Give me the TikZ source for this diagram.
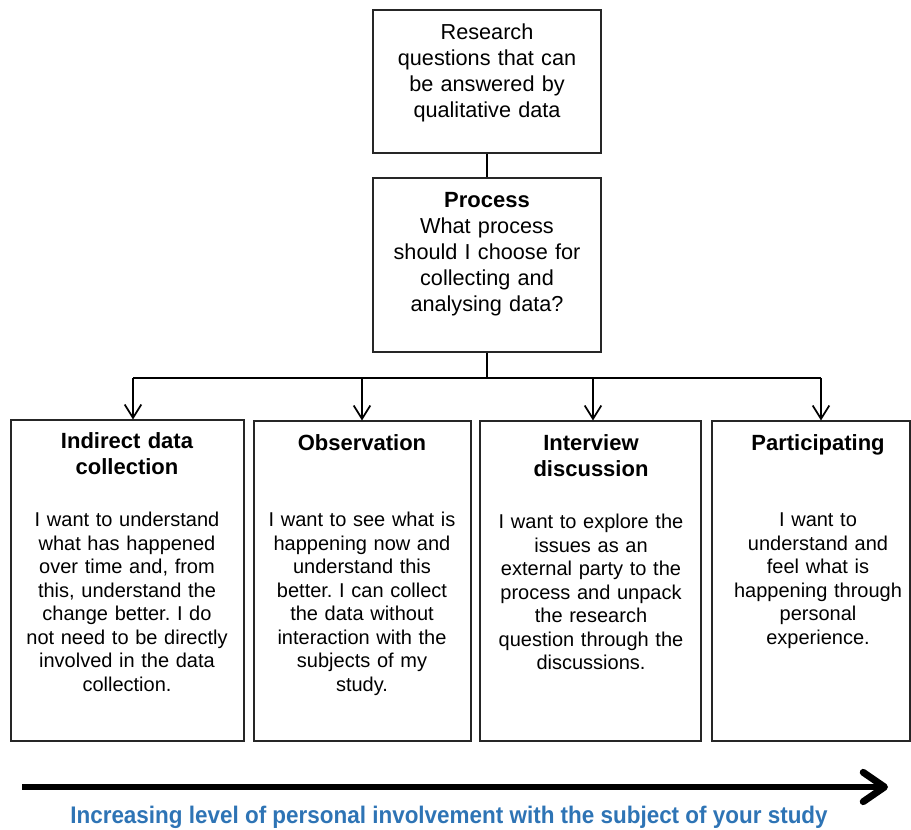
\documentclass[tikz,border=0pt]{standalone}
\usepackage{fontspec}
\setmainfont{Liberation Sans}
\usetikzlibrary{arrows.meta,fit}
\definecolor{trendblue}{RGB}{46,116,181}
\frenchspacing
\begin{document}
\begin{tikzpicture}[x=0.75pt,y=-0.75pt,
  frame/.style={draw=black!85, line width=0.8pt, inner sep=0pt},
  headtext/.style={inner sep=0pt, anchor=base, align=center, text width=165pt,
    font=\fontsize{16.25}{19.5}\selectfont},
  titletext/.style={headtext, font=\fontsize{16.5}{19.5}\selectfont\bfseries},
  bodytext/.style={inner sep=0pt, anchor=base, align=center, text width=160pt,
    font=\fontsize{15}{17.6}\selectfont},
  link/.style={line width=0.8pt},
  drop/.style={line width=1.3pt, -{Straight Barb[length=10pt,width=12.5pt]}}]

\useasboundingbox (0,0) rectangle (911,830);

% boxes
\node[frame, fit={(373,10)(601,153)}] (top) {};
\node[frame, fit={(373,178)(601,352)}] (proc) {};
\node[frame, fit={(11,420)(244,741)}] (b1) {};
\node[frame, fit={(254,421)(471,741)}] (b2) {};
\node[frame, fit={(480,421)(701,741)}] (b3) {};
\node[frame, fit={(712,421)(910,741)}] (b4) {};

% box texts
\node[headtext] (toptext) at (487,40) {Research\\questions that can\\be answered by\\qualitative data};
\node[titletext] (proctitle) at (487,208) {Process};
\node[headtext] (proctext) at (487,234) {What process\\should I choose for\\collecting and\\analysing data?};

\node[titletext] (t1) at (127,449) {Indirect data\\collection};
\node[bodytext] (x1) at (127,527) {I want to understand\\what has happened\\over time and, from\\this, understand the\\change better. I do\\not need to be directly\\involved in the data\\collection.};

\node[titletext] (t2) at (362,451) {Observation};
\node[bodytext] (x2) at (362,527) {I want to see what is\\happening now and\\understand this\\better. I can collect\\the data without\\interaction with the\\subjects of my\\study.};

\node[titletext] (t3) at (591,451) {Interview\\discussion};
\node[bodytext] (x3) at (591,529) {I want to explore the\\issues as an\\external party to the\\process and unpack\\the research\\question through the\\discussions.};

\node[titletext] (t4) at (818,451) {Participating};
\node[bodytext] (x4) at (818,527) {I want to\\understand and\\feel what is\\happening through\\personal\\experience.};

% connectors
\coordinate (hub) at (487,378);
\coordinate (c1) at (133,378);
\coordinate (c2) at (362,378);
\coordinate (c3) at (593,378);
\coordinate (c4) at (821,378);

\draw[link] (top.south) -- (proc.north);
\draw[link] (proc.south) -- (hub);
\draw[link] (c1) -- (c4);
\draw[drop] (c1) -- (c1 |- b1.north);
\draw[drop] (c2) -- (c2 |- b2.north);
\draw[drop] (c3) -- (c3 |- b3.north);
\draw[drop] (c4) -- (c4 |- b4.north);

% involvement axis
\coordinate (axisstart) at (22,787);
\coordinate (axisend) at (888,787);
\draw[line width=5.2pt, -{Straight Barb[length=16pt,width=22pt,round]}] (axisstart) -- (axisend);
\node[inner sep=0pt, anchor=base, text=trendblue, font=\fontsize{18}{20}\selectfont\bfseries] (axislabel) at (449,823)
  {\resizebox{568pt}{\height}{Increasing level of personal involvement with the subject of your study}};
\end{tikzpicture}
\end{document}
